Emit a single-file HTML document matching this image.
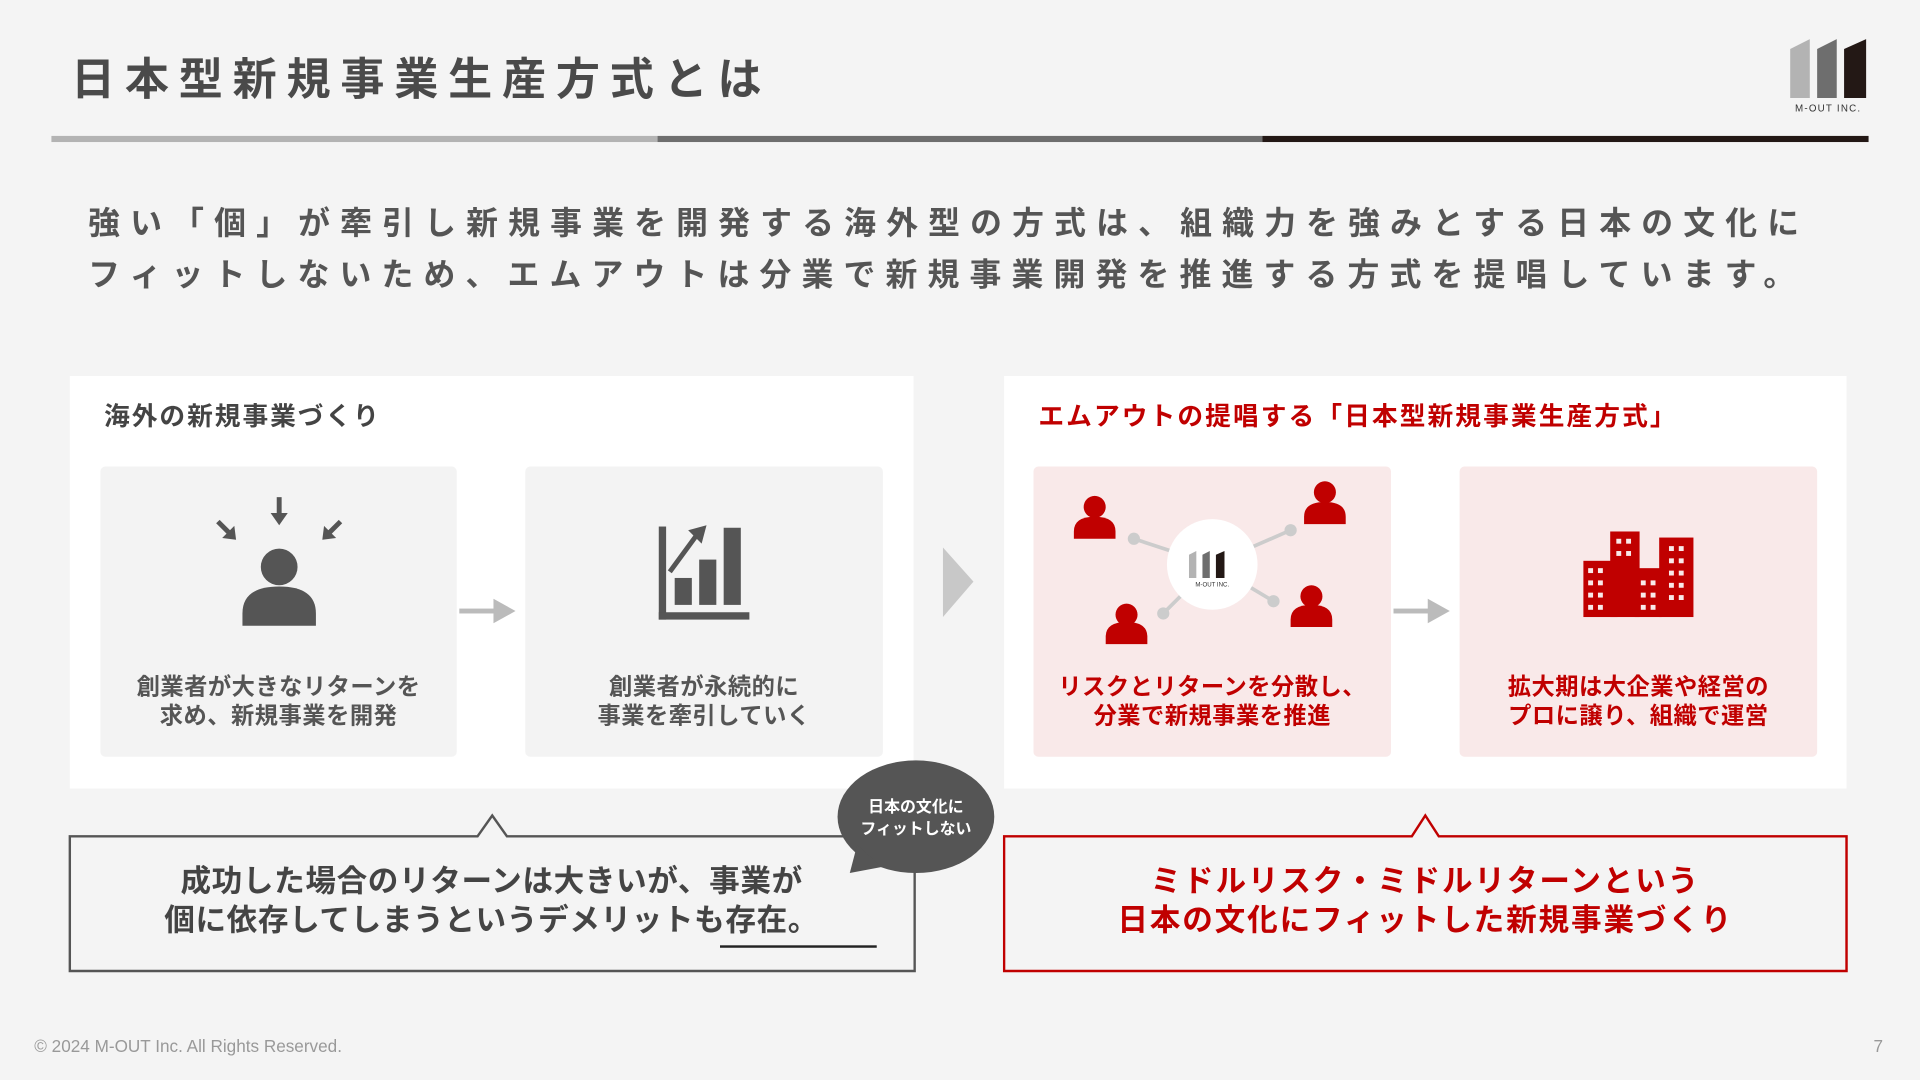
<!DOCTYPE html>
<html><head><meta charset="utf-8"><style>
*{margin:0;padding:0;box-sizing:border-box}
body{width:1920px;height:1080px;background:#f4f4f4;overflow:hidden;font-family:"Liberation Sans","Noto Sans CJK JP",sans-serif}
#s{position:absolute;left:0;top:0;width:1568px;height:882px;transform:scale(1.22449);transform-origin:0 0;background:#f4f4f4}
.a{position:absolute}
.t{font-weight:bold;white-space:nowrap}
.card{position:absolute;border-radius:4px}
.ct{position:absolute;left:0;right:0;text-align:center;font-size:19px;line-height:24px;font-weight:bold;letter-spacing:0.4px}
</style></head><body><div id="s">
<div class="a t" style="left:58px;top:36px;font-size:36px;letter-spacing:8px;color:#4a4a4a">日本型新規事業生産方式とは</div>
<svg class="a" style="left:1460px;top:30px" width="70" height="64" viewBox="0 0 70 64">
<polygon points="2,10 18,2 18,50 2,50" fill="#b3b3b3"/><polygon points="24,10 40,2 40,50 24,50" fill="#6e6e6e"/><polygon points="46,10 64,2 64,50 46,50" fill="#231815"/>
<text x="33" y="61" font-size="8" text-anchor="middle" fill="#333" letter-spacing="1" font-family="Liberation Sans">M-OUT INC.</text></svg>
<div class="a" style="left:42px;top:111px;width:495px;height:5px;background:#b3b3b3"></div>
<div class="a" style="left:537px;top:111px;width:494px;height:5px;background:#6e6e6e"></div>
<div class="a" style="left:1031px;top:111px;width:495px;height:5px;background:#231815"></div>
<div class="a t" style="left:72px;top:161px;font-size:26px;line-height:42px;letter-spacing:8.3px;color:#555">強い「個」が牽引し新規事業を開発する海外型の方式は、組織力を強みとする日本の文化に<br>フィットしないため、エムアウトは分業で新規事業開発を推進する方式を提唱しています。</div>

<div class="a" style="left:57px;top:307px;width:689px;height:337px;background:#fff"></div>
<div class="a t" style="left:85px;top:324px;font-size:21px;letter-spacing:1.6px;color:#444">海外の新規事業づくり</div>
<div class="card" style="left:82px;top:381px;width:291px;height:237px;background:#f3f3f3">
<svg class="a" style="left:85px;top:22px" width="120" height="110" viewBox="0 0 120 110">
<g fill="#555"><circle cx="61" cy="60" r="15"/><path d="M31 108 v-10 q0 -22 30 -22 q30 0 30 22 v10z"/>
<rect x="59" y="3" width="4" height="15"/><polygon points="54,16 68,16 61,26"/>
<g transform="rotate(-45 18 30)"><rect x="16" y="20" width="4" height="14"/><polygon points="11,32 25,32 18,41"/></g>
<g transform="rotate(45 104 30)"><rect x="102" y="20" width="4" height="14"/><polygon points="97,32 111,32 104,41"/></g></g></svg>
<div class="ct" style="top:169px;color:#555">創業者が大きなリターンを<br>求め、新規事業を開発</div></div>
<svg class="a" style="left:375px;top:488px" width="48" height="22"><rect x="0" y="9" width="32" height="4" fill="#bbb"/><polygon points="28,1 46,11 28,21" fill="#bbb"/></svg>
<div class="card" style="left:429px;top:381px;width:292px;height:237px;background:#f3f3f3">
<svg class="a" style="left:106px;top:46px" width="80" height="82" viewBox="0 0 80 82">
<g fill="#555"><rect x="3" y="3" width="6" height="76"/><rect x="3" y="73" width="74" height="6"/>
<rect x="16" y="45" width="14" height="22"/><rect x="36" y="30" width="14" height="37"/><rect x="56" y="4" width="14" height="63"/>
<path d="M12 40 L34 10" stroke="#555" stroke-width="4" fill="none"/><polygon points="27,6 42,2 38,17"/></g></svg>
<div class="ct" style="top:169px;color:#555">創業者が永続的に<br>事業を牽引していく</div></div>

<svg class="a" style="left:770px;top:447px" width="26" height="58"><polygon points="0,0 25,28 0,57" fill="#c8c8c8"/></svg>

<div class="a" style="left:820px;top:307px;width:688px;height:337px;background:#fff"></div>
<div class="a t" style="left:848px;top:324px;font-size:21px;letter-spacing:1.7px;color:#c00000">エムアウトの提唱する「日本型新規事業生産方式」</div>
<div class="card" style="left:844px;top:381px;width:292px;height:237px;background:#f9e9e9">
<svg class="a" style="left:0;top:0" width="292" height="160" viewBox="0 0 292 160">
<g stroke="#ccc" stroke-width="3"><line x1="82" y1="59" x2="146" y2="80"/><line x1="210" y1="52" x2="146" y2="80"/><line x1="106" y1="120" x2="146" y2="80"/><line x1="196" y1="110" x2="146" y2="80"/></g>
<g fill="#ccc"><circle cx="82" cy="59" r="5"/><circle cx="210" cy="52" r="5"/><circle cx="106" cy="120" r="5"/><circle cx="196" cy="110" r="5"/></g>
<circle cx="146" cy="80" r="37" fill="#fff"/>
<polygon points="127,72 133,69 133,91 127,91" fill="#b3b3b3"/><polygon points="138,72 144,69 144,91 138,91" fill="#6e6e6e"/><polygon points="149,72 156,69 156,91 149,91" fill="#231815"/>
<text x="146" y="98" font-size="5" text-anchor="middle" fill="#333" font-family="Liberation Sans">M-OUT INC.</text>
<g fill="#c00000"><circle cx="50" cy="33" r="9"/><path d="M33 59 v-6 q0-12 17-12 q17 0 17 12 v6z"/>
<circle cx="238" cy="21" r="9"/><path d="M221 47 v-6 q0-12 17-12 q17 0 17 12 v6z"/>
<circle cx="76" cy="121" r="9"/><path d="M59 145 v-6 q0-12 17-12 q17 0 17 12 v6z"/>
<circle cx="227" cy="106" r="9"/><path d="M210 131 v-6 q0-12 17-12 q17 0 17 12 v6z"/></g></svg>
<div class="ct" style="top:169px;color:#c00000">リスクとリターンを分散し、<br>分業で新規事業を推進</div></div>
<svg class="a" style="left:1138px;top:488px" width="48" height="22"><rect x="0" y="9" width="32" height="4" fill="#bbb"/><polygon points="28,1 46,11 28,21" fill="#bbb"/></svg>
<div class="card" style="left:1192px;top:381px;width:292px;height:237px;background:#f9e9e9">
<svg class="a" style="left:101px;top:53px" width="90" height="70" viewBox="0 0 90 70">
<g fill="#c00000"><rect x="0" y="24" width="28" height="46"/><rect x="22" y="0" width="24" height="70"/><rect x="42" y="30" width="22" height="40"/><rect x="62" y="5" width="28" height="65"/></g>
<g fill="#f9e9e9">
<rect x="4" y="30" width="4" height="4"/><rect x="12" y="30" width="4" height="4"/><rect x="4" y="40" width="4" height="4"/><rect x="12" y="40" width="4" height="4"/><rect x="4" y="50" width="4" height="4"/><rect x="12" y="50" width="4" height="4"/><rect x="4" y="60" width="4" height="4"/><rect x="12" y="60" width="4" height="4"/>
<rect x="27" y="6" width="4" height="4"/><rect x="35" y="6" width="4" height="4"/><rect x="27" y="16" width="4" height="4"/><rect x="35" y="16" width="4" height="4"/>
<rect x="47" y="40" width="4" height="4"/><rect x="55" y="40" width="4" height="4"/><rect x="47" y="50" width="4" height="4"/><rect x="55" y="50" width="4" height="4"/><rect x="47" y="60" width="4" height="4"/><rect x="55" y="60" width="4" height="4"/>
<rect x="70" y="12" width="4" height="4"/><rect x="78" y="12" width="4" height="4"/><rect x="70" y="22" width="4" height="4"/><rect x="78" y="22" width="4" height="4"/><rect x="70" y="32" width="4" height="4"/><rect x="78" y="32" width="4" height="4"/><rect x="70" y="42" width="4" height="4"/><rect x="78" y="42" width="4" height="4"/><rect x="70" y="52" width="4" height="4"/><rect x="78" y="52" width="4" height="4"/></g></svg>
<div class="ct" style="top:169px;color:#c00000">拡大期は大企業や経営の<br>プロに譲り、組織で運営</div></div>

<svg class="a" style="left:56px;top:662px" width="692" height="133">
<path d="M1 21 H334 L346 4 L358 21 H691 V131 H1 Z" fill="#f4f4f4" stroke="#555" stroke-width="2"/></svg>
<div class="a t" style="left:57px;top:704px;width:689px;text-align:center;font-size:25px;line-height:32px;letter-spacing:0.5px;color:#444">成功した場合のリターンは大きいが、事業が<br>個に依存してしまうというデメリットも存在。</div>
<div class="a" style="left:588px;top:772px;width:128px;height:2px;background:#222"></div>
<svg class="a" style="left:680px;top:620px" width="135" height="100"><ellipse cx="68" cy="47" rx="64" ry="46" fill="#555"/><polygon points="20,70 40,88 14,93" fill="#555"/></svg>
<div class="a t" style="left:680px;top:650px;width:136px;text-align:center;font-size:13px;line-height:18px;color:#fff">日本の文化に<br>フィットしない</div>

<svg class="a" style="left:819px;top:662px" width="692" height="133">
<path d="M1 21 H334 L345 4 L356 21 H689 V131 H1 Z" fill="#f4f4f4" stroke="#c00000" stroke-width="2"/></svg>
<div class="a t" style="left:820px;top:704px;width:688px;text-align:center;font-size:25px;line-height:32px;letter-spacing:1.5px;color:#c00000">ミドルリスク・ミドルリターンという<br>日本の文化にフィットした新規事業づくり</div>

<div class="a" style="left:28px;top:846px;font-size:14px;color:#999">© 2024 M-OUT Inc. All Rights Reserved.</div>
<div class="a" style="left:1530px;top:846px;font-size:14px;color:#999">7</div>
</div></body></html>
